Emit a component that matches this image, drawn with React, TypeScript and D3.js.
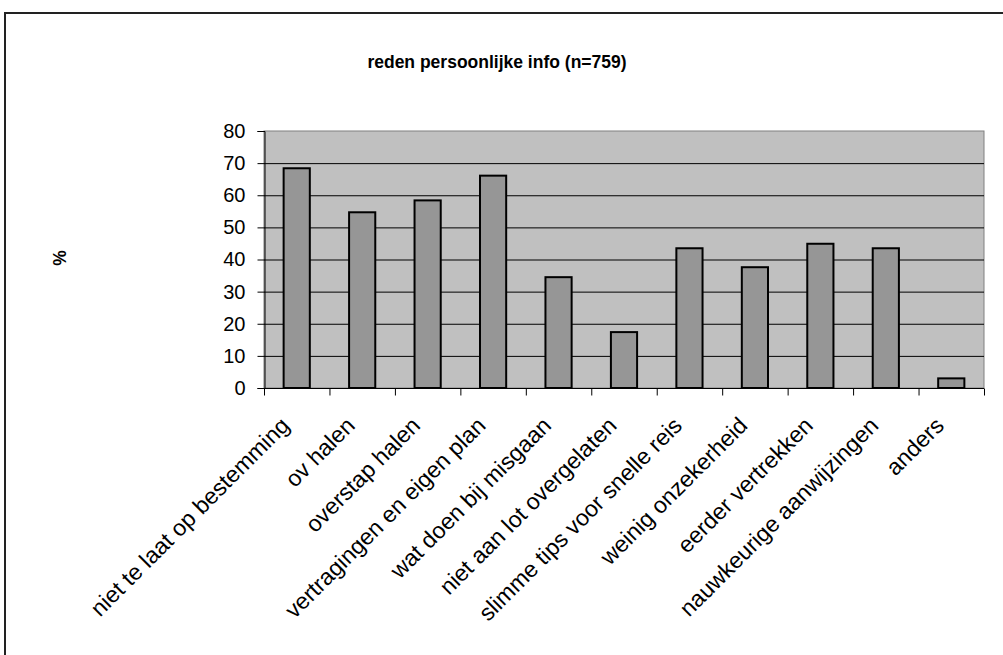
import React, { useEffect, useRef } from 'react';
import * as d3 from 'd3';

const title = 'reden persoonlijke info (n=759)';
const categories = [
  'niet te laat op bestemming',
  'ov halen',
  'overstap halen',
  'vertragingen en eigen plan',
  'wat doen bij misgaan',
  'niet aan lot overgelaten',
  'slimme tips voor snelle reis',
  'weinig onzekerheid',
  'eerder vertrekken',
  'nauwkeurige aanwijzingen',
  'anders',
];
const percentages = [68.4, 54.7, 58.4, 66.1, 34.5, 17.4, 43.5, 37.6, 44.9, 43.5, 3.0];
const yTicks = [0, 10, 20, 30, 40, 50, 60, 70, 80];

const App: React.FC = () => {
  const chartRef = useRef<SVGSVGElement>(null);

  useEffect(() => {
    document.body.style.margin = '0';
    const svg = d3.select(chartRef.current);
    svg.selectAll('*').remove();

    const font = 'Arial, "Liberation Sans", sans-serif';
    const left = 264;
    const right = 984;
    const top = 131;
    const bottom = 388;

    // outer frame (runs off the right and bottom edges)
    svg
      .append('path')
      .attr('d', 'M5,700 L5,13 L1010,13')
      .attr('fill', 'none')
      .attr('stroke', '#222')
      .attr('stroke-width', 2);

    svg
      .append('text')
      .attr('x', 497)
      .attr('y', 68)
      .attr('text-anchor', 'middle')
      .attr('font-family', font)
      .attr('font-weight', 'bold')
      .attr('font-size', 17.5)
      .text(title);

    svg
      .append('text')
      .attr('transform', 'translate(66,258) rotate(-90)')
      .attr('text-anchor', 'middle')
      .attr('font-family', font)
      .attr('font-weight', 'bold')
      .attr('font-size', 17.5)
      .text('%');

    const x = d3.scaleBand().domain(categories).range([left, right]).paddingInner(0.6).paddingOuter(0.3);
    const xOuter = d3.scaleBand().domain(categories).range([left, right]);
    const y = d3.scaleLinear().domain([0, 80]).range([bottom, top]);

    svg
      .append('rect')
      .attr('x', left)
      .attr('y', top)
      .attr('width', right - left)
      .attr('height', bottom - top)
      .attr('fill', '#c0c0c0')
      .attr('stroke', '#808080')
      .attr('stroke-width', 1);

    svg
      .append('g')
      .selectAll('line')
      .data(yTicks.filter((t) => t > 0 && t < 80))
      .join('line')
      .attr('x1', left)
      .attr('x2', right)
      .attr('y1', (d) => y(d) + 0.5)
      .attr('y2', (d) => y(d) + 0.5)
      .attr('stroke', '#000')
      .attr('stroke-width', 1);

    svg
      .append('g')
      .selectAll('rect')
      .data(percentages)
      .join('rect')
      .attr('x', (_, i) => x(categories[i])!)
      .attr('y', (d) => y(d))
      .attr('width', x.bandwidth())
      .attr('height', (d) => bottom - y(d))
      .attr('fill', '#969696')
      .attr('stroke', '#000')
      .attr('stroke-width', 2);

    // y axis
    const yAxis = svg
      .append('g')
      .attr('transform', `translate(${left + 0.5},0)`)
      .call(d3.axisLeft(y).tickValues(yTicks).tickSize(7).tickPadding(12));
    yAxis.select('.domain').attr('stroke', '#000');
    yAxis.selectAll('line').attr('stroke', '#000');
    yAxis
      .selectAll('text')
      .attr('font-family', font)
      .attr('font-size', 20)
      .attr('fill', '#000');

    // x axis
    const xAxisG = svg.append('g').attr('transform', `translate(0,${bottom + 0.5})`);
    xAxisG
      .append('line')
      .attr('x1', left)
      .attr('x2', right)
      .attr('stroke', '#000');
    xAxisG
      .selectAll('line.tick')
      .data([...categories.map((c) => xOuter(c)!), right])
      .join('line')
      .attr('class', 'tick')
      .attr('x1', (d) => d + 0.5)
      .attr('x2', (d) => d + 0.5)
      .attr('y1', 0)
      .attr('y2', 7)
      .attr('stroke', '#000');

    svg
      .append('g')
      .selectAll('text')
      .data(categories)
      .join('text')
      .attr(
        'transform',
        (d) => `translate(${xOuter(d)! + xOuter.bandwidth() / 2 - 6},${bottom + 39}) rotate(-45)`
      )
      .attr('text-anchor', 'end')
      .attr('font-family', font)
      .attr('font-size', 23)
      .attr('fill', '#000')
      .text((d) => d);
  }, []);

  return (
    <div>
      <svg ref={chartRef} width={1003} height={655} style={{ display: 'block' }}></svg>
    </div>
  );
};

export default App;
